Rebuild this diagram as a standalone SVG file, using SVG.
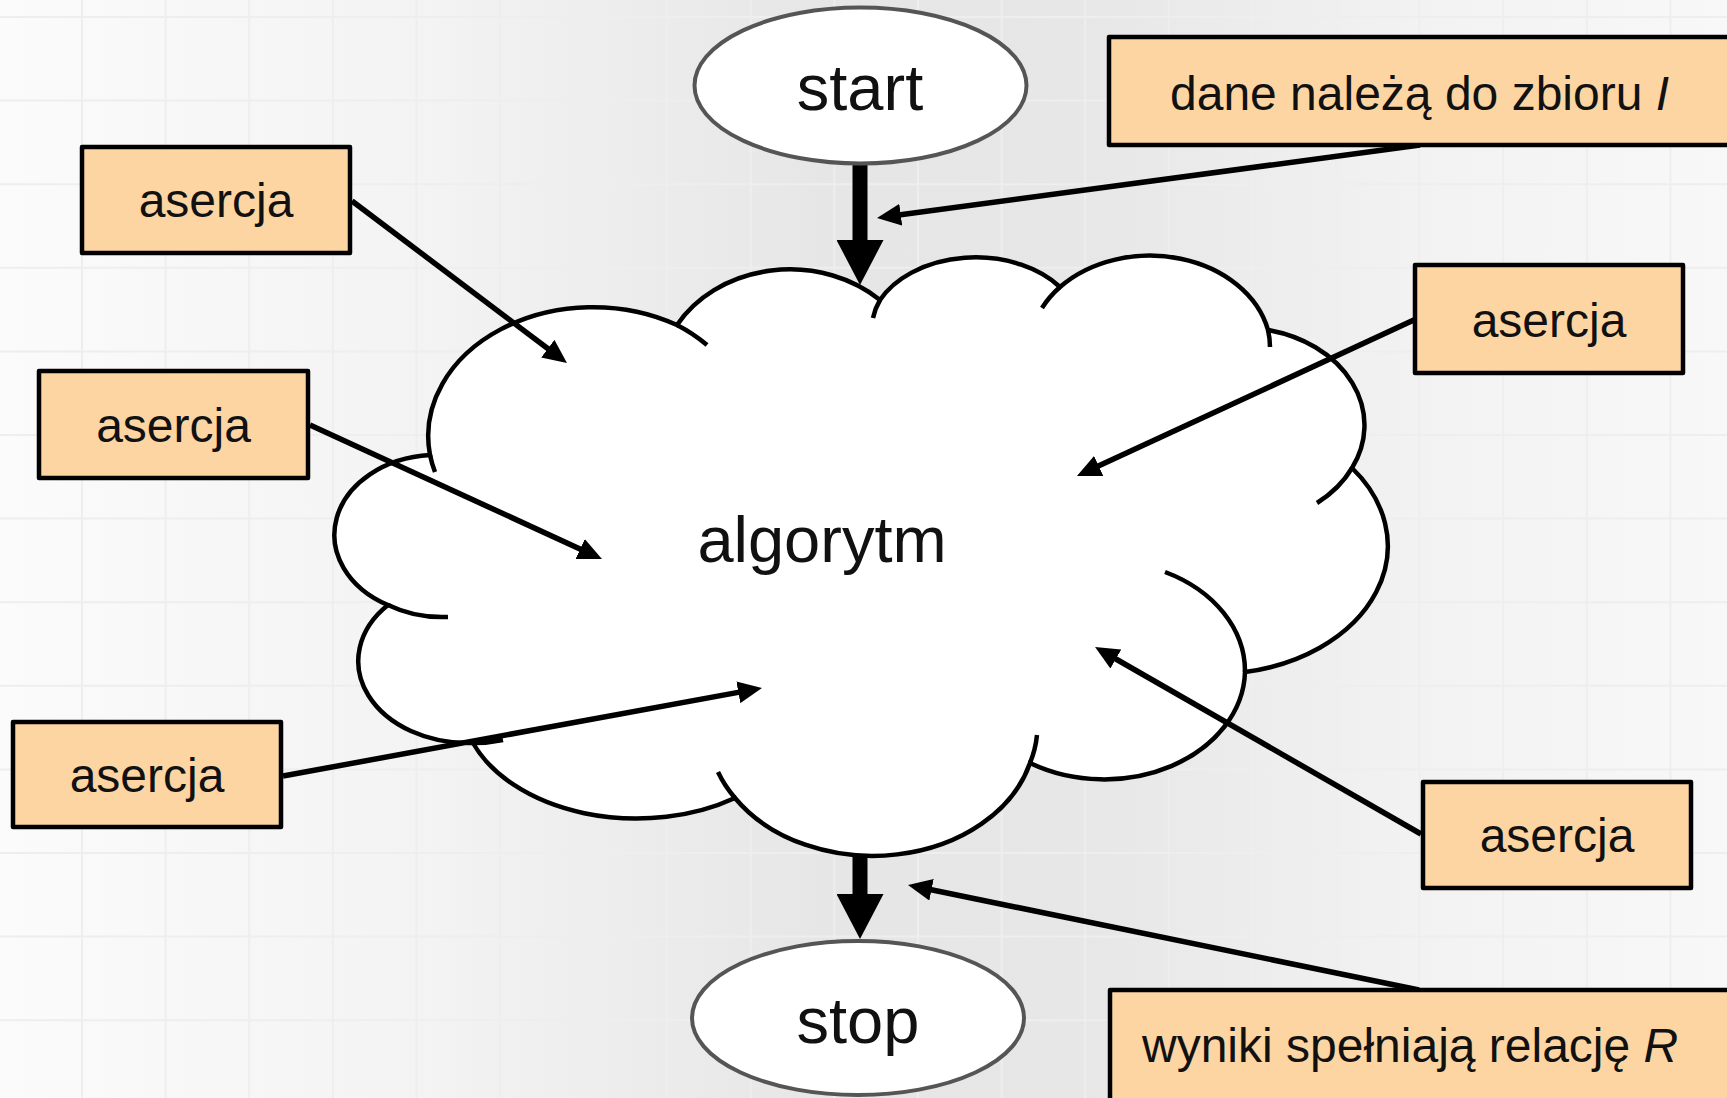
<svg xmlns="http://www.w3.org/2000/svg" width="1727" height="1098" viewBox="0 0 1727 1098">
<style>
  text { font-family: "Liberation Sans", Arial, sans-serif; fill: #111; }
  .lbl { font-size: 48px; }
  .big { font-size: 65px; text-anchor: middle; }
  .box { fill: #fdd5a2; stroke: #000; stroke-width: 4.5; stroke-linejoin: round; }
  .oval { fill: #fff; stroke: #555; stroke-width: 4; }
  .cloud { fill: #fff; stroke: #000; stroke-width: 4.5; }
  .tail { fill: none; stroke: #000; stroke-width: 4.5; }
  .conn { stroke: #000; stroke-width: 5.5; fill: none; }
  .thick { stroke: #000; stroke-width: 15; fill: none; }
  .grid { stroke: #eeeeee; stroke-width: 2; }
</style>
<defs>
  <linearGradient id="bg" x1="0" y1="0" x2="1" y2="0">
    <stop offset="0" stop-color="#fbfbfb"/>
    <stop offset="0.25" stop-color="#f3f3f3"/>
    <stop offset="0.48" stop-color="#e6e6e6"/>
    <stop offset="0.63" stop-color="#e7e7e7"/>
    <stop offset="0.82" stop-color="#f2f2f2"/>
    <stop offset="1" stop-color="#f8f8f8"/>
  </linearGradient>
  <marker id="ah" markerUnits="userSpaceOnUse" viewBox="0 0 24 22" markerWidth="24" markerHeight="22" refX="4" refY="11" orient="auto">
    <path d="M0,0 L24,11 L0,22 z" fill="#000"/>
  </marker>
  <marker id="ahBig" markerUnits="userSpaceOnUse" viewBox="0 0 45 47" markerWidth="45" markerHeight="47" refX="2" refY="23.5" orient="auto">
    <path d="M0,0 L45,23.5 L0,47 z" fill="#000"/>
  </marker>
</defs>

<g id="background">
  <rect x="0" y="0" width="1727" height="1098" fill="url(#bg)"/>
  <g class="grid">
    <line x1="0" y1="17" x2="1727" y2="17"/>
    <line x1="0" y1="100.6" x2="1727" y2="100.6"/>
    <line x1="0" y1="184.2" x2="1727" y2="184.2"/>
    <line x1="0" y1="267.8" x2="1727" y2="267.8"/>
    <line x1="0" y1="351.4" x2="1727" y2="351.4"/>
    <line x1="0" y1="435" x2="1727" y2="435"/>
    <line x1="0" y1="518.6" x2="1727" y2="518.6"/>
    <line x1="0" y1="602.2" x2="1727" y2="602.2"/>
    <line x1="0" y1="685.8" x2="1727" y2="685.8"/>
    <line x1="0" y1="769.4" x2="1727" y2="769.4"/>
    <line x1="0" y1="853" x2="1727" y2="853"/>
    <line x1="0" y1="936.6" x2="1727" y2="936.6"/>
    <line x1="0" y1="1020.2" x2="1727" y2="1020.2"/>
    <line x1="82" y1="0" x2="82" y2="1098"/>
    <line x1="165.6" y1="0" x2="165.6" y2="1098"/>
    <line x1="249.2" y1="0" x2="249.2" y2="1098"/>
    <line x1="332.8" y1="0" x2="332.8" y2="1098"/>
    <line x1="416.4" y1="0" x2="416.4" y2="1098"/>
    <line x1="500" y1="0" x2="500" y2="1098"/>
    <line x1="583.6" y1="0" x2="583.6" y2="1098"/>
    <line x1="667.2" y1="0" x2="667.2" y2="1098"/>
    <line x1="750.8" y1="0" x2="750.8" y2="1098"/>
    <line x1="834.4" y1="0" x2="834.4" y2="1098"/>
    <line x1="918" y1="0" x2="918" y2="1098"/>
    <line x1="1001.6" y1="0" x2="1001.6" y2="1098"/>
    <line x1="1085.2" y1="0" x2="1085.2" y2="1098"/>
    <line x1="1168.8" y1="0" x2="1168.8" y2="1098"/>
    <line x1="1252.4" y1="0" x2="1252.4" y2="1098"/>
    <line x1="1336" y1="0" x2="1336" y2="1098"/>
    <line x1="1419.6" y1="0" x2="1419.6" y2="1098"/>
    <line x1="1503.2" y1="0" x2="1503.2" y2="1098"/>
    <line x1="1586.8" y1="0" x2="1586.8" y2="1098"/>
    <line x1="1670.4" y1="0" x2="1670.4" y2="1098"/>
  </g>
</g>

<g id="algorytm">
  <path class="cloud" d="M430,455 A165,129 0 0 1 677,325 A130,110 0 0 1 880,300 A106,75 0 0 1 1060,287 A121,95 0 0 1 1268,330 A123,97.5 0 0 1 1352,468 A173,128 0 0 1 1245,672 A141,110 0 0 1 1030,763 A163,125 0 0 1 735,798 A175,118 0 0 1 473,743 A110,82 0 0 1 388,605 A103,80 0 0 1 430,455 Z"/>
  <path class="tail" d="M677,325 A165,129 0 0 1 707,345 M435,472 A165,129 0 0 1 430,455 M448,617 A103,80 0 0 1 388,605 M503,740 A110,82 0 0 1 473,743 M735,798 A163,125 0 0 1 718,772 M1037,735 A163,125 0 0 1 1030,763 M1165,572 A141,110 0 0 1 1245,672 M1352,468 A123,97.5 0 0 1 1317,503 M1268,330 A121,95 0 0 1 1270,347 M1042,308 A121,95 0 0 1 1060,287 M873,318 A106,75 0 0 1 880,300"/>
  <text class="big" x="822" y="562">algorytm</text>
</g>

<g id="connectors">
  <line class="thick" x1="860" y1="165" x2="860" y2="242" marker-end="url(#ahBig)"/>
  <line class="thick" x1="860" y1="855" x2="860" y2="896" marker-end="url(#ahBig)"/>
  <line class="conn" x1="1420" y1="145" x2="896.8" y2="215.3" marker-end="url(#ah)"/>
  <line class="conn" x1="352" y1="201" x2="551" y2="351" marker-end="url(#ah)"/>
  <line class="conn" x1="310" y1="425" x2="583.8" y2="550.7" marker-end="url(#ah)"/>
  <line class="conn" x1="283" y1="776" x2="742.3" y2="691.6" marker-end="url(#ah)"/>
  <line class="conn" x1="1416" y1="319" x2="1095.1" y2="467.6" marker-end="url(#ah)"/>
  <line class="conn" x1="1421" y1="834" x2="1112.4" y2="657" marker-end="url(#ah)"/>
  <line class="conn" x1="1419" y1="990" x2="927.6" y2="889" marker-end="url(#ah)"/>
</g>

<g id="start">
  <ellipse class="oval" cx="860.5" cy="85.5" rx="166" ry="78"/>
  <text class="big" x="860" y="110">start</text>
</g>

<g id="stop">
  <ellipse class="oval" cx="858" cy="1018" rx="166" ry="77"/>
  <text class="big" x="858" y="1043">stop</text>
</g>

<g id="dane">
  <rect class="box" x="1109" y="37" width="700" height="108"/>
  <text class="lbl" x="1170" y="110">dane należą do zbioru <tspan font-style="italic">I</tspan></text>
</g>

<g id="wyniki">
  <rect class="box" x="1110" y="990" width="700" height="200"/>
  <text class="lbl" x="1142" y="1062">wyniki spełniają relację <tspan font-style="italic">R</tspan></text>
</g>

<g id="asercja1">
  <rect class="box" x="82" y="147" width="268" height="106"/>
  <text class="lbl" x="216" y="217" text-anchor="middle">asercja</text>
</g>
<g id="asercja2">
  <rect class="box" x="39" y="371" width="269" height="107"/>
  <text class="lbl" x="173.5" y="442" text-anchor="middle">asercja</text>
</g>
<g id="asercja3">
  <rect class="box" x="13" y="722" width="268" height="105"/>
  <text class="lbl" x="147" y="792" text-anchor="middle">asercja</text>
</g>
<g id="asercja4">
  <rect class="box" x="1415" y="265" width="268" height="108"/>
  <text class="lbl" x="1549" y="337" text-anchor="middle">asercja</text>
</g>
<g id="asercja5">
  <rect class="box" x="1423" y="782" width="268" height="106"/>
  <text class="lbl" x="1557" y="852" text-anchor="middle">asercja</text>
</g>
</svg>
